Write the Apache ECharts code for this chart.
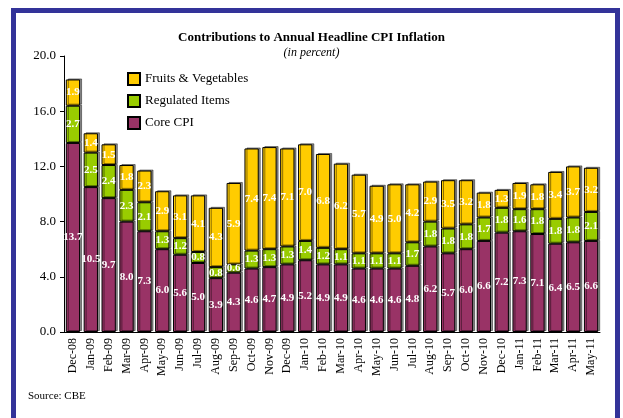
<!DOCTYPE html>
<html>
<head>
<meta charset="utf-8">
<script src="https://cdn.jsdelivr.net/npm/echarts@6/dist/echarts.min.js"></script>
<style>
  html, body { margin: 0; padding: 0; background: #fff; }
  #chart { width: 623px; height: 418px; }
</style>
</head>
<body>
<div id="chart"></div>
<script>
const meses = ["Dec-08", "Jan-09", "Feb-09", "Mar-09", "Apr-09", "May-09", "Jun-09", "Jul-09",
  "Aug-09", "Sep-09", "Oct-09", "Nov-09", "Dec-09", "Jan-10", "Feb-10", "Mar-10", "Apr-10",
  "May-10", "Jun-10", "Jul-10", "Aug-10", "Sep-10", "Oct-10", "Nov-10", "Dec-10", "Jan-11",
  "Feb-11", "Mar-11", "Apr-11", "May-11"];
const coreCPI = [13.7, 10.5, 9.7, 8.0, 7.3, 6.0, 5.6, 5.0, 3.9, 4.3, 4.6, 4.7, 4.9, 5.2, 4.9,
  4.9, 4.6, 4.6, 4.6, 4.8, 6.2, 5.7, 6.0, 6.6, 7.2, 7.3, 7.1, 6.4, 6.5, 6.6];
const regulados = [2.7, 2.5, 2.4, 2.3, 2.1, 1.3, 1.2, 0.8, 0.8, 0.6, 1.3, 1.3, 1.3, 1.4, 1.2,
  1.1, 1.1, 1.1, 1.1, 1.7, 1.8, 1.8, 1.8, 1.7, 1.8, 1.6, 1.8, 1.8, 1.8, 2.1];
const frutas = [1.9, 1.4, 1.5, 1.8, 2.3, 2.9, 3.1, 4.1, 4.3, 5.9, 7.4, 7.4, 7.1, 7.0, 6.8,
  6.2, 5.7, 4.9, 5.0, 4.2, 2.9, 3.5, 3.2, 1.8, 1.3, 1.9, 1.8, 3.4, 3.7, 3.2];
const ticksY = [0, 4, 8, 12, 16, 20];

const fuente = "'Liberation Serif', 'DejaVu Serif', serif";
let myChart = echarts.init(document.getElementById("chart"));

function serie(nombre, datos, color) {
  return {
    name: nombre,
    type: "bar",
    stack: "total",
    barCategoryGap: "20%",
    data: datos,
    itemStyle: {
      color: color,
      borderColor: "#000",
      borderWidth: 1,
      shadowColor: "rgba(0,0,0,0.45)",
      shadowOffsetX: 2,
      shadowOffsetY: -1,
      shadowBlur: 0,
    },
    label: {
      show: true,
      position: "inside",
      color: "#fff",
      fontFamily: fuente,
      fontWeight: "bold",
      fontSize: 11,
      formatter: (p) => p.value.toFixed(1),
    },
  };
}

let option = {
  animation: false,
  title: {
    text: "Contributions to Annual Headline CPI Inflation",
    subtext: "(in percent)",
    left: "center",
    top: 26,
    itemGap: 3,
    textStyle: { fontFamily: fuente, fontSize: 13, fontWeight: "bold", color: "#000" },
    subtextStyle: { fontFamily: fuente, fontSize: 12, fontStyle: "italic", color: "#000" },
  },
  legend: {
    orient: "vertical",
    left: 122,
    top: 67,
    icon: "rect",
    itemWidth: 12,
    itemHeight: 12,
    itemGap: 8,
    data: ["Fruits & Vegetables", "Regulated Items", "Core CPI"],
    textStyle: { fontFamily: fuente, fontSize: 13, color: "#000" },
  },
  grid: { left: 64, right: 23, top: 56, bottom: 86 },
  xAxis: {
    type: "category",
    data: meses,
    axisLine: { lineStyle: { color: "#000", width: 1 } },
    axisTick: { lineStyle: { color: "#000" }, length: 4 },
    axisLabel: { rotate: 90, color: "#000", fontFamily: fuente, fontSize: 12, interval: 0, margin: 6 },
  },
  yAxis: {
    type: "value",
    min: ticksY[0],
    max: ticksY[ticksY.length - 1],
    interval: 4,
    splitLine: { show: false },
    axisLine: { show: true, lineStyle: { color: "#000", width: 1 } },
    axisTick: { show: true, lineStyle: { color: "#000" }, length: 4 },
    axisLabel: { color: "#000", fontFamily: fuente, fontSize: 13, formatter: (v) => v.toFixed(1) },
  },
  series: [
    serie("Core CPI", coreCPI, "#993366"),
    serie("Regulated Items", regulados, "#99CC00"),
    serie("Fruits & Vegetables", frutas, "#FFCC00"),
  ],
  graphic: [
    {
      type: "rect",
      shape: { x: 13.5, y: 10.5, width: 604, height: 430 },
      style: { fill: null, stroke: "#333399", lineWidth: 5 },
      silent: true,
    },
    {
      type: "text",
      left: 28,
      top: 391,
      style: { text: "Source: CBE", fontFamily: fuente, fontSize: 11, fill: "#000" },
    },
  ],
};
option && myChart.setOption(option);
</script>
</body>
</html>
